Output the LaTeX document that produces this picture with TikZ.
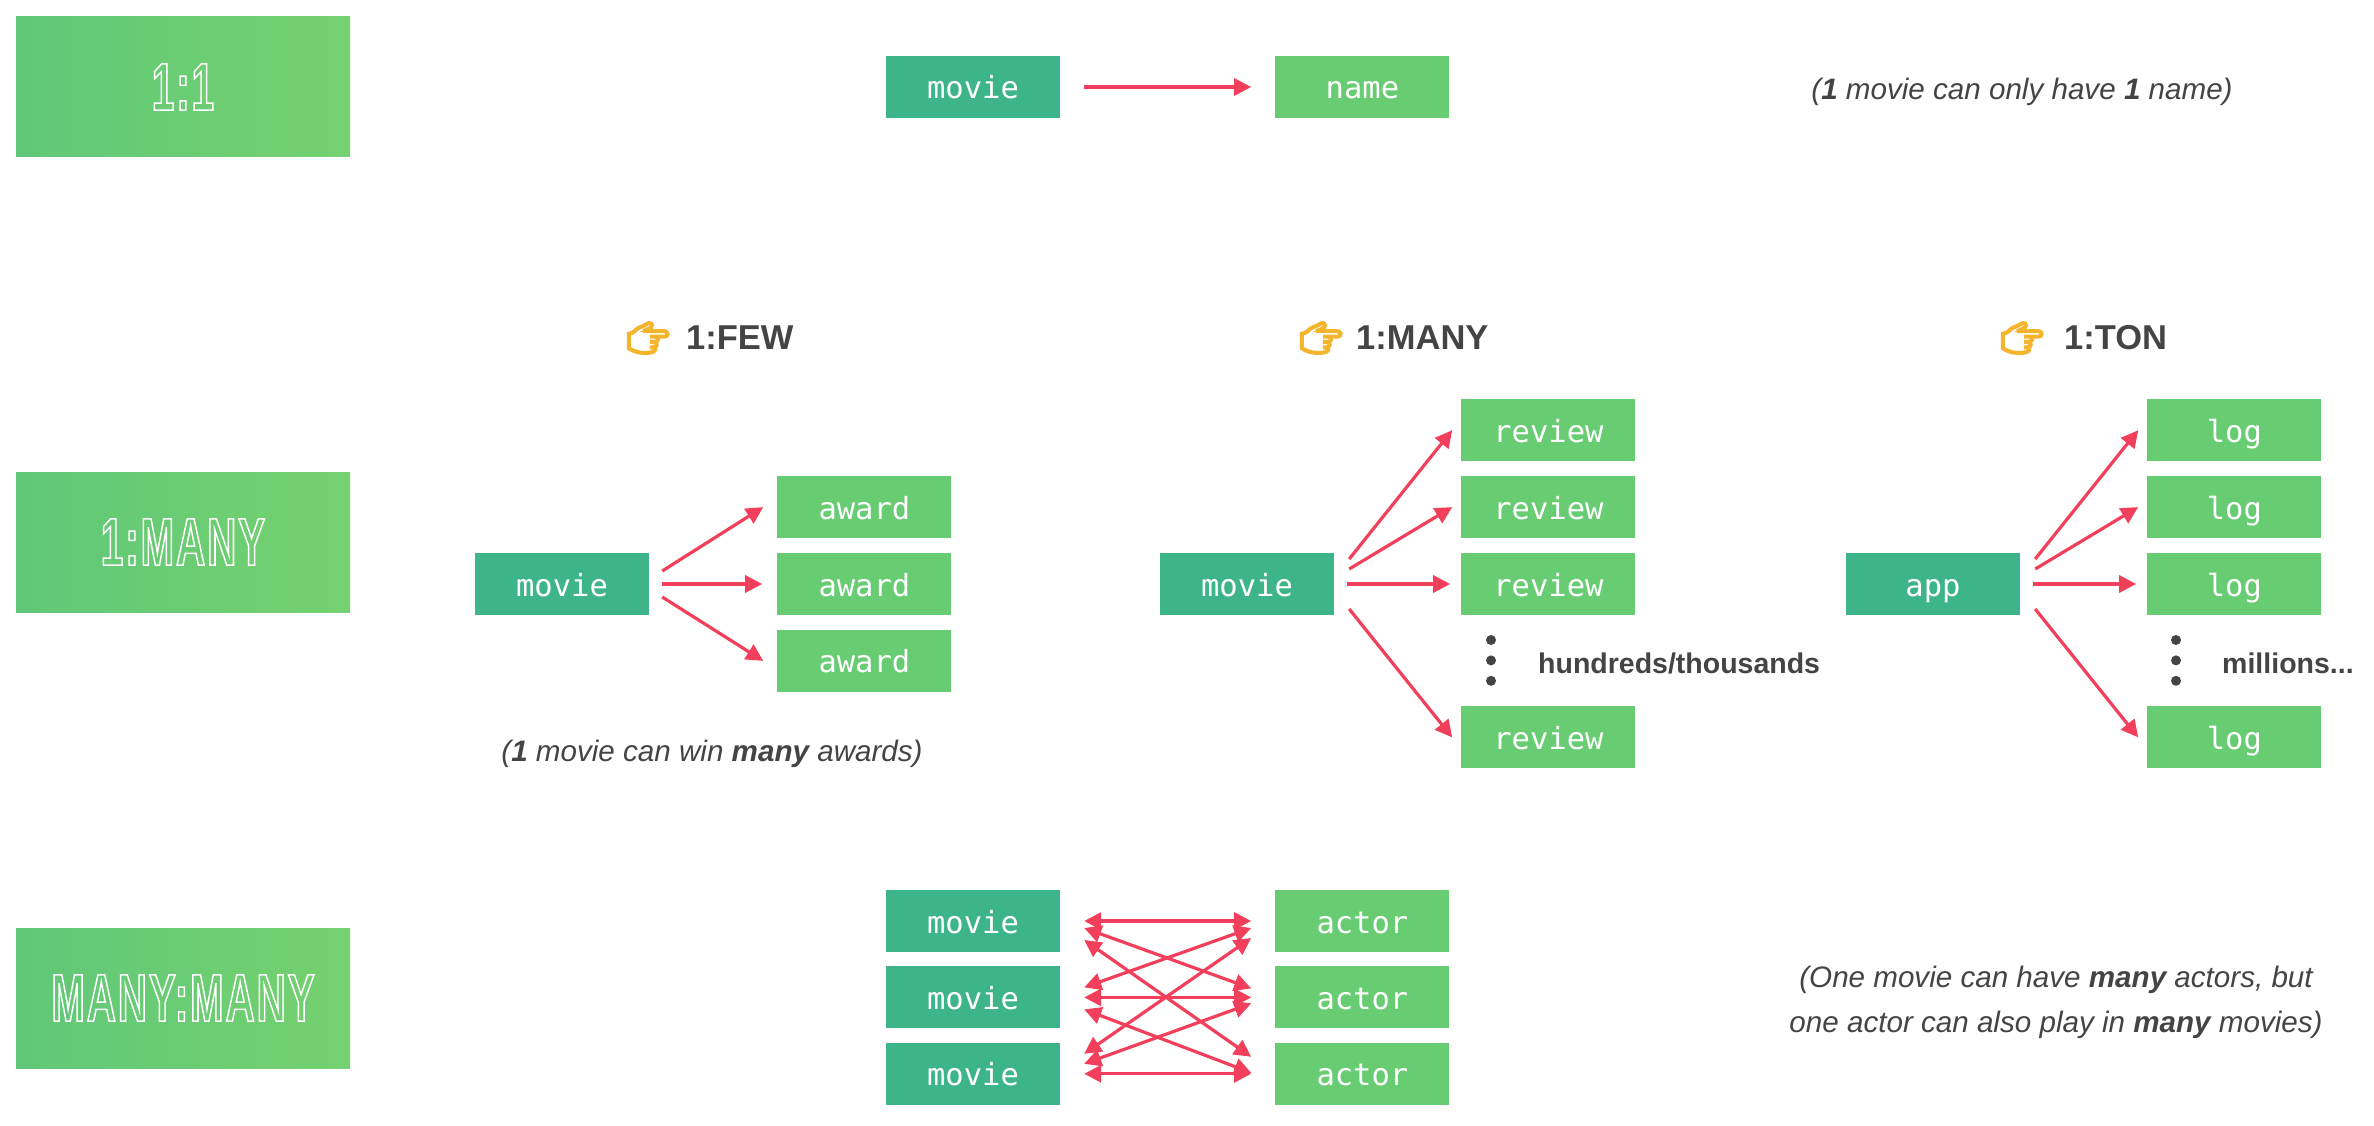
\documentclass[tikz,border=0pt]{standalone}
\usepackage{fontspec}
\setmainfont{Liberation Sans}
\setmonofont{DejaVu Sans Mono}
\newfontfamily\emojifont[FakeBold=8]{Noto Emoji}
\newfontfamily\inlinefont[FakeStretch=0.6,LetterSpace=3]{Liberation Sans}
\usetikzlibrary{arrows.meta,positioning}
\definecolor{Relation}{HTML}{F2405C}
\definecolor{ParentGreen}{HTML}{3EB489}
\definecolor{ChildGreen}{HTML}{67CC72}
\definecolor{BannerLeft}{HTML}{60C878}
\definecolor{BannerRight}{HTML}{75D16F}
\definecolor{TextDark}{HTML}{444444}
\definecolor{EmojiAmber}{HTML}{F4B42C}
% stroked glyphs, no fill
\newcommand{\hollowtext}[1]{\special{pdf:code 1 Tr 1.5 w 1 1 1 RG}#1\special{pdf:code 0 Tr}}
\tikzset{
  parentnode/.style={fill=ParentGreen,minimum width=174pt,minimum height=62pt,inner sep=0pt,text=white,text height=24pt,text depth=0pt,font=\ttfamily\fontsize{30.5}{36}\selectfont},
  childnode/.style={parentnode,fill=ChildGreen},
  bannernode/.style={left color=BannerLeft,right color=BannerRight,minimum width=334pt,minimum height=140pt,inner sep=0pt,text=white,font=\inlinefont\bfseries\fontsize{67}{80}\selectfont},
  headnode/.style={anchor=west,inner sep=0pt,text=TextDark,font=\bfseries\fontsize{34.5}{40}\selectfont},
  pointnode/.style={inner sep=0pt,text=EmojiAmber,font=\emojifont\fontsize{34}{40}\selectfont},
  notenode/.style={inner sep=0pt,text=TextDark,align=center,font=\itshape\fontsize{29.6}{45}\selectfont},
  countnode/.style={anchor=west,inner sep=0pt,text=TextDark,font=\bfseries\fontsize{28.5}{34}\selectfont},
  dotnode/.style={circle,fill=TextDark,minimum size=10pt,inner sep=0pt},
  relarrow/.style={-{Triangle[length=17pt,width=17pt]},line width=3.2pt,draw=Relation},
  bothways/.style={{Triangle[length=17pt,width=17pt]}-{Triangle[length=17pt,width=17pt]},line width=3.2pt,draw=Relation}
}
\begin{document}
\begin{tikzpicture}[x=1pt,y=-1pt]
\useasboundingbox (0,0) rectangle (2374,1126);
% banners
\node[bannernode] (bannerOne) at (183,87) {\hollowtext{1:1}};
\node[bannernode] (bannerMany) at (183,542) {\hollowtext{1:MANY}};
\node[bannernode] (bannerBoth) at (183,998) {\hollowtext{MANY:MANY}};
% one to one
\node[parentnode] (movieTop) at (973,87) {movie};
\node[childnode,right=215pt of movieTop] (nameTop) {name};
\node[notenode] (noteTop) at (2022,92) {(\textbf{1} movie can only have \textbf{1} name)};
\draw[relarrow] ([xshift=24pt]movieTop.east) -- ([xshift=-24pt]nameTop.west);
% one to few
\node[headnode] (headFew) at (686,338) {1:FEW};
\node[pointnode,left=16pt of headFew] (pointFew) {👉};
\node[parentnode] (movieFew) at (562,584) {movie};
\node[childnode,right=128pt of movieFew] (awardB) {award};
\node[childnode,above=14.5pt of awardB] (awardA) {award};
\node[childnode,below=14.5pt of awardB] (awardC) {award};
\node[notenode] (noteFew) at (712,754) {(\textbf{1} movie can win \textbf{many} awards)};
\draw[relarrow] ([xshift=13pt,yshift=13pt]movieFew.east) -- ([xshift=-14pt]awardA.west);
\draw[relarrow] ([xshift=13pt]movieFew.east) -- ([xshift=-15pt]awardB.west);
\draw[relarrow] ([xshift=13pt,yshift=-13pt]movieFew.east) -- ([xshift=-14pt]awardC.west);
% one to many
\node[headnode] (headMany) at (1356,338) {1:MANY};
\node[pointnode,left=13pt of headMany] (pointMany) {👉};
\node[parentnode] (movieMany) at (1247,584) {movie};
\node[childnode,right=127pt of movieMany] (reviewC) {review};
\node[childnode,above=14.5pt of reviewC] (reviewB) {review};
\node[childnode,above=14.5pt of reviewB] (reviewA) {review};
\node[childnode,below=91pt of reviewC] (reviewD) {review};
\node[dotnode] (dotManyA) at (1491,640) {};
\node[dotnode,below=10pt of dotManyA] (dotManyB) {};
\node[dotnode,below=10pt of dotManyB] (dotManyC) {};
\node[countnode] (countMany) at (1538,663) {hundreds/thousands};
\draw[relarrow] ([xshift=15pt,yshift=25pt]movieMany.east) -- ([xshift=-9pt]reviewA.west);
\draw[relarrow] ([xshift=15pt,yshift=15pt]movieMany.east) -- ([xshift=-9pt]reviewB.west);
\draw[relarrow] ([xshift=13pt]movieMany.east) -- ([xshift=-11pt]reviewC.west);
\draw[relarrow] ([xshift=15pt,yshift=-25pt]movieMany.east) -- ([xshift=-9pt]reviewD.west);
% one to ton
\node[headnode] (headTon) at (2064,338) {1:TON};
\node[pointnode,left=20pt of headTon] (pointTon) {👉};
\node[parentnode] (appTon) at (1933,584) {app};
\node[childnode,right=127pt of appTon] (logC) {log};
\node[childnode,above=14.5pt of logC] (logB) {log};
\node[childnode,above=14.5pt of logB] (logA) {log};
\node[childnode,below=91pt of logC] (logD) {log};
\node[dotnode] (dotTonA) at (2176,640) {};
\node[dotnode,below=10pt of dotTonA] (dotTonB) {};
\node[dotnode,below=10pt of dotTonB] (dotTonC) {};
\node[countnode] (countTon) at (2222,663) {millions...};
\draw[relarrow] ([xshift=15pt,yshift=25pt]appTon.east) -- ([xshift=-9pt]logA.west);
\draw[relarrow] ([xshift=15pt,yshift=15pt]appTon.east) -- ([xshift=-9pt]logB.west);
\draw[relarrow] ([xshift=13pt]appTon.east) -- ([xshift=-11pt]logC.west);
\draw[relarrow] ([xshift=15pt,yshift=-25pt]appTon.east) -- ([xshift=-9pt]logD.west);
% many to many
\node[parentnode] (movieA) at (973,921) {movie};
\node[parentnode,below=14pt of movieA] (movieB) {movie};
\node[parentnode,below=14pt of movieB] (movieC) {movie};
\node[childnode,right=215pt of movieA] (actorA) {actor};
\node[childnode,right=215pt of movieB] (actorB) {actor};
\node[childnode,right=215pt of movieC] (actorC) {actor};
\node[notenode] (noteBoth) at (2056,1002.5) {(One movie can have \textbf{many} actors, but\\one actor can also play in \textbf{many} movies)};
\draw[bothways] ([xshift=24pt]movieA.east) -- ([xshift=-24pt]actorA.west);
\draw[bothways] ([xshift=24pt,yshift=-7pt]movieA.east) -- ([xshift=-24pt,yshift=9pt]actorB.west);
\draw[bothways] ([xshift=24pt,yshift=-19pt]movieA.east) -- ([xshift=-24pt,yshift=17pt]actorC.west);
\draw[bothways] ([xshift=24pt,yshift=10pt]movieB.east) -- ([xshift=-24pt,yshift=-7pt]actorA.west);
\draw[bothways] ([xshift=24pt]movieB.east) -- ([xshift=-24pt]actorB.west);
\draw[bothways] ([xshift=24pt,yshift=-12pt]movieB.east) -- ([xshift=-24pt,yshift=1pt]actorC.west);
\draw[bothways] ([xshift=24pt,yshift=20pt]movieC.east) -- ([xshift=-24pt,yshift=-17pt]actorA.west);
\draw[bothways] ([xshift=24pt,yshift=10pt]movieC.east) -- ([xshift=-24pt,yshift=-6pt]actorB.west);
\draw[bothways] ([xshift=24pt]movieC.east) -- ([xshift=-24pt]actorC.west);
\end{tikzpicture}
\end{document}
